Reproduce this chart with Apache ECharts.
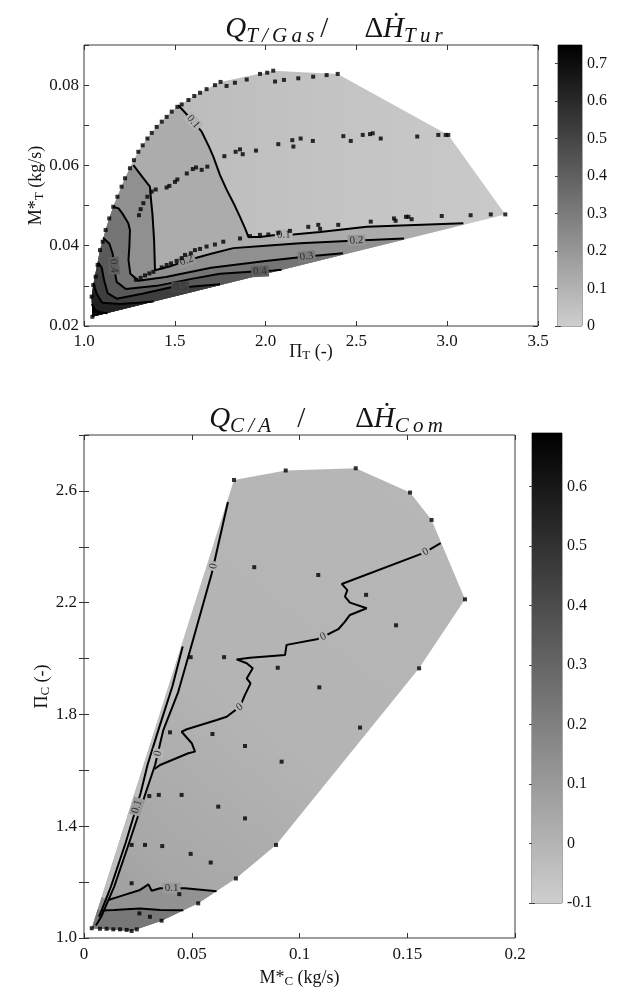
<!DOCTYPE html>
<html>
<head>
<meta charset="utf-8">
<title>Heat-flow ratio maps</title>
<script src="https://cdn.jsdelivr.net/npm/echarts@6/dist/echarts.min.js"></script>
<style>
html,body{margin:0;padding:0;background:#ffffff;}
#chart{width:619px;height:992px;}
</style>
</head>
<body>
<div id="chart"></div>
<script>
// ================= turbine map (upper panel) =================
// operating points, grouped by the line they were measured on  [PI_T, M*_T]
const turbineOuterLine = [
  [1.046,0.0223],[1.042,0.0273],[1.051,0.0302],[1.064,0.0323],[1.075,0.0352],[1.088,0.0389],
  [1.103,0.0410],[1.119,0.0439],[1.139,0.0468],[1.161,0.0497],[1.184,0.0522],[1.207,0.0547],
  [1.226,0.0568],[1.253,0.0593],[1.275,0.0613],[1.299,0.0634],[1.323,0.0650],[1.349,0.0667],
  [1.373,0.0681],[1.400,0.0696],[1.428,0.0709],[1.455,0.0721],[1.483,0.0734],[1.514,0.0746],
  [1.538,0.0752],[1.575,0.0763],[1.607,0.0773],[1.639,0.0781],[1.675,0.0790],[1.721,0.0800],
  [1.752,0.0808],[1.785,0.0798],[1.831,0.0806],[1.896,0.0814],[1.969,0.0828],[2.009,0.0831],
  [2.042,0.0836],[2.052,0.0809],[2.101,0.0813],[2.180,0.0817],[2.262,0.0821],[2.336,0.0825],
  [2.397,0.0828]
];
const turbineMidLine = [
  [1.303,0.0476],[1.312,0.0491],[1.327,0.0506],[1.349,0.0522],[1.373,0.0535],[1.395,0.0540],
  [1.455,0.0545],[1.470,0.0549],[1.501,0.0559],[1.514,0.0565],[1.566,0.0580],[1.599,0.0591],
  [1.617,0.0595],[1.648,0.0589],[1.679,0.0597],[1.773,0.0623],[1.835,0.0634],[1.859,0.0640],
  [1.874,0.0628],[1.947,0.0637],[2.070,0.0653],[2.147,0.0663],[2.153,0.0647],[2.193,0.0667],
  [2.260,0.0661],[2.428,0.0673],[2.469,0.0661],[2.535,0.0676],[2.575,0.0678],[2.590,0.0680],
  [2.634,0.0667],[2.835,0.0672],[2.951,0.0676],[2.992,0.0676],[3.006,0.0676]
];
const turbineLowLine = [
  [1.286,0.0315],[1.312,0.0320],[1.336,0.0326],[1.360,0.0331],[1.382,0.0335],[1.428,0.0346],
  [1.455,0.0352],[1.479,0.0356],[1.510,0.0362],[1.538,0.0369],[1.556,0.0377],[1.588,0.0381],
  [1.611,0.0389],[1.639,0.0392],[1.675,0.0398],[1.721,0.0403],[1.767,0.0410],[1.859,0.0418],
  [1.914,0.0424],[1.969,0.0427],[2.015,0.0428],[2.070,0.0432],[2.134,0.0437],[2.235,0.0447],
  [2.290,0.0452],[2.300,0.0442],[2.400,0.0452],[2.579,0.0460],[2.707,0.0468],[2.716,0.0462],
  [2.773,0.0472],[2.786,0.0472],[2.804,0.0466],[2.970,0.0474],[3.129,0.0476],[3.240,0.0478],
  [3.320,0.0478]
];

// iso-lines of Q_T/Gas / dH_Tur
const turbineIso01 = [[1.519,0.0750],[1.560,0.0730],[1.602,0.0709],[1.648,0.0684],[1.690,0.0645],[1.712,0.0622],
  [1.749,0.0576],[1.786,0.0539],[1.830,0.0500],[1.859,0.0472],[1.890,0.0440],[1.905,0.0422],[1.969,0.0422],
  [2.042,0.0426],[2.152,0.0428],[2.300,0.0434],[2.557,0.0447],[3.089,0.0456]];
const turbineIso02 = [[1.272,0.0601],[1.320,0.0572],[1.363,0.0547],[1.370,0.0510],[1.377,0.0478],[1.386,0.0414],
  [1.391,0.0339],[1.470,0.0348],[1.565,0.0363],[1.700,0.0380],[1.822,0.0394],[2.000,0.0400],[2.189,0.0406],
  [2.447,0.0412],[2.762,0.0418]];
const turbineIso03 = [[1.161,0.0497],[1.190,0.0493],[1.215,0.0478],[1.244,0.0456],[1.253,0.0439],[1.250,0.0400],
  [1.245,0.0365],[1.255,0.0330],[1.300,0.0313],[1.450,0.0322],[1.700,0.0345],[2.000,0.0362],[2.226,0.0373],
  [2.426,0.0381]];
const turbineIso04 = [[1.105,0.0420],[1.140,0.0405],[1.158,0.0380],[1.165,0.0345],[1.180,0.0310],[1.230,0.0292],
  [1.400,0.0300],[1.600,0.0318],[1.749,0.0330],[1.916,0.0335],[2.042,0.0338],[2.088,0.0340]];
const turbineIso05 = [[1.078,0.0358],[1.098,0.0345],[1.110,0.0315],[1.130,0.0282],[1.180,0.0268],[1.327,0.0281],
  [1.474,0.0296],[1.584,0.0298],[1.749,0.0304]];
const turbineIso06 = [[1.053,0.0305],[1.070,0.0280],[1.100,0.0258],[1.200,0.0255],[1.300,0.0258],[1.383,0.0261]];
const turbineIso07 = [[1.044,0.0255],[1.060,0.0240],[1.090,0.0234],[1.130,0.0232]];
const turbineIsoLevels = [0.1, 0.2, 0.3, 0.4, 0.5, 0.6, 0.7];
const turbineIsoLabels = [
  [1.602,0.0709,'0.1'],[2.100,0.0427,'0.1'],[1.565,0.0363,'0.2'],[2.500,0.0413,'0.2'],
  [2.226,0.0373,'0.3'],[1.164,0.0350,'0.4'],[1.969,0.0336,'0.4'],[1.530,0.0297,'0.5']
];
const turbineScale = [0, 0.75];

// ================= compressor map (lower panel) =================
// operating points  [M*_C, PI_C]
const compressorHighPoints = [
  [0.0696,2.639],[0.0936,2.673],[0.1261,2.681],[0.1513,2.594],[0.1613,2.496],[0.1768,2.212],
  [0.0790,2.327],[0.1087,2.299],[0.1309,2.228],[0.1448,2.119],
  [0.0495,2.005],[0.0650,2.005],[0.0899,1.967],[0.1555,1.965],[0.1092,1.897],[0.1281,1.753]
];
const compressorMidPoints = [
  [0.0399,1.736],[0.0596,1.730],[0.0747,1.687],[0.0917,1.631],
  [0.0303,1.508],[0.0347,1.512],[0.0453,1.512],[0.0623,1.470],[0.0747,1.428],
  [0.0221,1.333],[0.0283,1.333],[0.0363,1.329],[0.0891,1.333],[0.0495,1.301],[0.0588,1.270]
];
const compressorLowPoints = [
  [0.0705,1.213],[0.0221,1.196],[0.0442,1.157],[0.0530,1.124],
  [0.0257,1.088],[0.0306,1.076],[0.0360,1.062],
  [0.0036,1.035],[0.0074,1.033],[0.0105,1.033],[0.0136,1.031],[0.0167,1.031],[0.0198,1.029],
  [0.0221,1.025],[0.0245,1.031]
];

// iso-lines of Q_C/A / dH_Com
const compressorIsoZero = [[0.1655,2.413],[0.1580,2.379],[0.1196,2.267],[0.1222,2.245],[0.1211,2.222],
  [0.1234,2.200],[0.1312,2.180],[0.1234,2.156],[0.1211,2.132],[0.1180,2.105],[0.1110,2.078],[0.1080,2.069],
  [0.0940,2.049],[0.0933,2.013],[0.0770,2.003],[0.0708,1.997],[0.0755,1.983],[0.0783,1.965],[0.0755,1.929],
  [0.0773,1.911],[0.0747,1.870],[0.0724,1.828],[0.0662,1.792],[0.0616,1.780],[0.0477,1.747],[0.0453,1.738],
  [0.0500,1.697],[0.0515,1.667],[0.0484,1.661],[0.0353,1.619],[0.0328,1.605]];
const compressorIsoEdgeInner = [[0.0668,2.560],[0.0593,2.305],[0.0500,2.050],[0.0437,1.880],[0.0368,1.744],
  [0.0330,1.620],[0.0286,1.519],[0.0209,1.340],[0.0140,1.184],[0.0080,1.076],[0.0055,1.045]];
const compressorIsoEdgeOuter = [[0.0458,2.043],[0.0410,1.900],[0.0345,1.744],[0.0295,1.620],[0.0263,1.519],
  [0.0193,1.340],[0.0125,1.184],[0.0070,1.076]];
const compressorIso01 = [[0.0113,1.136],[0.0170,1.150],[0.0260,1.172],[0.0299,1.192],[0.0314,1.169],
  [0.0353,1.178],[0.0469,1.178],[0.0615,1.167]];
const compressorIso02 = [[0.0080,1.098],[0.0140,1.100],[0.0198,1.103],[0.0260,1.106],[0.0353,1.100],[0.0461,1.099]];
const compressorIsoLabels = [
  [0.1585,2.382,'0'],[0.1110,2.078,'0'],[0.0722,1.826,'0'],[0.0601,2.331,'0'],[0.0343,1.661,'0'],
  [0.0407,1.178,'0.1'],[0.0245,1.470,'0.1']
];
const compressorScale = [-0.1, 0.69];

// ================= helpers =================
const SERIF = '"Liberation Serif", "Times New Roman", serif';
const INK = '#141414';
const LIGHTEST = 206;
const THIN = '\u2009';

// grey colour scale: light grey at the low end, black at the high end
function grayAt(v, scale) {
  const t = Math.max(0, Math.min(1, (scale[1] - v) / (scale[1] - scale[0])));
  const g = Math.round(LIGHTEST * t);
  return 'rgb(' + g + ',' + g + ',' + g + ')';
}

// convex hull (counter-clockwise, y up) of the measured points
function convexHull(points) {
  const p = points.map(q => q.slice()).sort((a, b) => a[0] - b[0] || a[1] - b[1]);
  const cross = (o, a, b) => (a[0] - o[0]) * (b[1] - o[1]) - (a[1] - o[1]) * (b[0] - o[0]);
  const lower = [], upper = [];
  for (const q of p) {
    while (lower.length >= 2 && cross(lower[lower.length - 2], lower[lower.length - 1], q) <= 0) lower.pop();
    lower.push(q);
  }
  for (let i = p.length - 1; i >= 0; i--) {
    const q = p[i];
    while (upper.length >= 2 && cross(upper[upper.length - 2], upper[upper.length - 1], q) <= 0) upper.pop();
    upper.push(q);
  }
  lower.pop(); upper.pop();
  return lower.concat(upper);
}

// nearest hull edge of a point (distances measured relative to the axis spans)
function edgeProjection(hull, p, span) {
  let best = null;
  for (let i = 0; i < hull.length; i++) {
    const a = hull[i], b = hull[(i + 1) % hull.length];
    const ax = a[0] / span[0], ay = a[1] / span[1], bx = b[0] / span[0], by = b[1] / span[1];
    const px = p[0] / span[0], py = p[1] / span[1];
    const dx = bx - ax, dy = by - ay, len = dx * dx + dy * dy;
    let t = len ? ((px - ax) * dx + (py - ay) * dy) / len : 0;
    t = Math.max(0, Math.min(1, t));
    const d = (px - ax - t * dx) ** 2 + (py - ay - t * dy) ** 2;
    if (!best || d < best.d) best = { i, d, point: [a[0] + t * (b[0] - a[0]), a[1] + t * (b[1] - a[1])] };
  }
  return best;
}

// area enclosed by an iso-line and the hull boundary on the clockwise side of its end point
function regionBeyond(hull, line, span) {
  const n = hull.length;
  const s = edgeProjection(hull, line[0], span);
  const e = edgeProjection(hull, line[line.length - 1], span);
  const poly = line.slice();
  poly.push(e.point);
  if (s.i !== e.i) {
    let i = e.i;
    const stop = (s.i + 1) % n;
    for (let k = 0; k < n; k++) {
      poly.push(hull[i]);
      if (i === stop) break;
      i = (i - 1 + n) % n;
    }
  }
  poly.push(s.point);
  return poly;
}

function distToSeg(c, a, b) {
  const dx = b[0] - a[0], dy = b[1] - a[1], len = dx * dx + dy * dy;
  let t = len ? ((c[0] - a[0]) * dx + (c[1] - a[1]) * dy) / len : 0;
  t = Math.max(0, Math.min(1, t));
  return Math.hypot(c[0] - a[0] - t * dx, c[1] - a[1] - t * dy);
}

function surfaceSeries(layers, xi, yi) {
  return {
    type: 'custom', coordinateSystem: 'cartesian2d', xAxisIndex: xi, yAxisIndex: yi,
    silent: true, z: 1, clip: false,
    data: layers.map(L => L.pts[0]),
    renderItem: (params, api) => {
      const L = layers[params.dataIndex];
      return { type: 'polygon', shape: { points: L.pts.map(p => api.coord(p)) }, style: { fill: L.fill } };
    }
  };
}

function isoLineSeries(line, xi, yi) {
  return {
    type: 'line', xAxisIndex: xi, yAxisIndex: yi, data: line, showSymbol: false, symbol: 'none',
    silent: true, z: 3, lineStyle: { color: '#000', width: 2 }
  };
}

function isoLabelSeries(labels, lines, scale, xi, yi) {
  return {
    type: 'custom', coordinateSystem: 'cartesian2d', xAxisIndex: xi, yAxisIndex: yi,
    silent: true, z: 4, clip: false,
    data: labels.map(l => [l[0], l[1]]),
    renderItem: (params, api) => {
      const lab = labels[params.dataIndex];
      const c = api.coord([lab[0], lab[1]]);
      let best = null;
      for (const line of lines) {
        for (let i = 0; i < line.length - 1; i++) {
          const a = api.coord(line[i]), b = api.coord(line[i + 1]);
          const d = distToSeg(c, a, b);
          if (!best || d < best.d) best = { d, a, b };
        }
      }
      let ang = Math.atan2(best.b[1] - best.a[1], best.b[0] - best.a[0]);
      if (ang > Math.PI / 2) ang -= Math.PI;
      if (ang < -Math.PI / 2) ang += Math.PI;
      return {
        type: 'text', x: c[0], y: c[1], rotation: -ang,
        style: {
          text: lab[2], fill: '#303030', font: '11px ' + SERIF, align: 'center', verticalAlign: 'middle',
          backgroundColor: grayAt(parseFloat(lab[2]), scale), padding: [0, 2, 0, 2]
        }
      };
    }
  };
}

function colorBarSeries(scale, xi, yi) {
  return {
    type: 'custom', coordinateSystem: 'cartesian2d', xAxisIndex: xi, yAxisIndex: yi,
    silent: true, z: 1, data: [[0, scale[0]]],
    renderItem: (params, api) => {
      const lo = api.coord([0, scale[0]]), hi = api.coord([1, scale[1]]);
      return {
        type: 'rect',
        shape: { x: lo[0], y: hi[1], width: hi[0] - lo[0], height: lo[1] - hi[1] },
        style: {
          fill: new echarts.graphic.LinearGradient(0, 0, 0, 1, [
            { offset: 0, color: grayAt(scale[1], scale) },
            { offset: 1, color: grayAt(scale[0], scale) }
          ])
        }
      };
    }
  };
}

// math-style title: italic symbol, spaced italic subscripts
function spaced(s) { return s.split('').join(THIN); }
function titleRich(gapA, gapB) {
  return {
    mi: { fontFamily: SERIF, fontStyle: 'italic', fontSize: 29, lineHeight: 36, verticalAlign: 'middle', fill: INK },
    mu: { fontFamily: SERIF, fontSize: 29, lineHeight: 36, verticalAlign: 'middle', fill: INK },
    si: { fontFamily: SERIF, fontStyle: 'italic', fontSize: 21, lineHeight: 20, verticalAlign: 'bottom', fill: INK },
    ga: { width: gapA, fontSize: 10 },
    gb: { width: gapB, fontSize: 10 }
  };
}

// ================= surfaces =================
const turbinePoints = turbineOuterLine.concat(turbineMidLine, turbineLowLine);
const turbineHull = convexHull(turbinePoints);
const turbineSpan = [2.5, 0.07];
const turbineIsoLines = [turbineIso01, turbineIso02, turbineIso03, turbineIso04, turbineIso05, turbineIso06, turbineIso07];
const turbineLayers = [{
  pts: turbineHull,
  fill: new echarts.graphic.LinearGradient(0, 0, 1, 0, [
    { offset: 0, color: grayAt(0.09, turbineScale) },
    { offset: 0.3, color: grayAt(0.06, turbineScale) },
    { offset: 0.6, color: grayAt(0.035, turbineScale) },
    { offset: 1, color: grayAt(0.02, turbineScale) }
  ])
}].concat(turbineIsoLines.map((line, k) => ({
  pts: regionBeyond(turbineHull, line, turbineSpan),
  fill: grayAt(turbineIsoLevels[k] + 0.025, turbineScale)
})));

const compressorPoints = compressorHighPoints.concat(compressorMidPoints, compressorLowPoints);
const compressorHull = convexHull(compressorPoints);
const compressorSpan = [0.2, 1.8];
const compressorLayers = [
  {
    pts: compressorHull,
    fill: new echarts.graphic.LinearGradient(1, 0, 0, 1, [
      { offset: 0, color: grayAt(-0.01, compressorScale) },
      { offset: 0.55, color: grayAt(0.0, compressorScale) },
      { offset: 0.85, color: grayAt(0.05, compressorScale) },
      { offset: 1, color: grayAt(0.1, compressorScale) }
    ])
  },
  { pts: regionBeyond(compressorHull, compressorIsoEdgeInner, compressorSpan), fill: grayAt(-0.04, compressorScale) },
  { pts: regionBeyond(compressorHull, compressorIso01, compressorSpan), fill: grayAt(0.13, compressorScale) },
  { pts: regionBeyond(compressorHull, compressorIso02, compressorSpan), fill: grayAt(0.23, compressorScale) }
];
const compressorIsoLines = [compressorIsoZero, compressorIsoEdgeInner, compressorIsoEdgeOuter, compressorIso01, compressorIso02];

// ================= axes =================
const tick = { show: true, inside: true, length: 5, lineStyle: { color: '#333', width: 1 } };
const tickLabel = { color: INK, fontFamily: SERIF, fontSize: 17 };
const nameRich = {
  m: { fontFamily: SERIF, fontSize: 18, color: INK, lineHeight: 20, verticalAlign: 'middle' },
  s: { fontFamily: SERIF, fontSize: 13, color: INK, lineHeight: 12, verticalAlign: 'bottom' }
};
const gridBase = { show: true, backgroundColor: 'transparent', borderColor: '#3a3a3a', borderWidth: 1, containLabel: false, outerBoundsMode: 'none' };

function valueAxis(extra) {
  return Object.assign({
    type: 'value', scale: true, axisLine: { show: false }, axisTick: tick, splitLine: { show: false },
    nameMoveOverlap: false,
    axisLabel: Object.assign({ show: false }, tickLabel)
  }, extra);
}

const option = {
  animation: false,
  backgroundColor: '#ffffff',
  grid: [
    Object.assign({}, gridBase, { left: 84, top: 45, width: 454, height: 281 }),
    Object.assign({}, gridBase, { left: 84, top: 435, width: 431, height: 503 }),
    Object.assign({}, gridBase, { left: 558, top: 45, width: 24, height: 281, borderColor: '#555' }),
    Object.assign({}, gridBase, { left: 532, top: 433, width: 30, height: 470, borderColor: '#555' })
  ],
  xAxis: [
    valueAxis({ gridIndex: 0, min: 1, max: 3.5, interval: 0.5, position: 'bottom',
      axisLabel: Object.assign({ show: true, margin: 7, formatter: v => v.toFixed(1) }, tickLabel),
      name: '{m|\u03A0}{s|T}{m| (-)}', nameLocation: 'middle', nameGap: 16,
      nameTextStyle: { rich: nameRich } }),
    valueAxis({ gridIndex: 0, min: 1, max: 3.5, interval: 0.5, position: 'top' }),
    valueAxis({ gridIndex: 1, min: 0, max: 0.2, interval: 0.05, position: 'bottom',
      axisLabel: Object.assign({ show: true, margin: 8 }, tickLabel),
      name: '{m|M*}{s|C}{m| (kg/s)}', nameLocation: 'middle', nameGap: 30,
      nameTextStyle: { rich: nameRich } }),
    valueAxis({ gridIndex: 1, min: 0, max: 0.2, interval: 0.05, position: 'top' }),
    { type: 'value', gridIndex: 2, min: 0, max: 1, show: false },
    { type: 'value', gridIndex: 3, min: 0, max: 1, show: false }
  ],
  yAxis: [
    valueAxis({ gridIndex: 0, min: 0.02, max: 0.09, interval: 0.01, position: 'left',
      axisLabel: Object.assign({ show: true, margin: 5,
        formatter: v => (Math.round(v * 100) % 2 === 0 ? v.toFixed(2) : '') }, tickLabel),
      name: '{m|M*}{s|T}{m| (kg/s)}', nameLocation: 'middle', nameGap: 38, nameRotate: 90,
      nameTextStyle: { rich: nameRich } }),
    valueAxis({ gridIndex: 0, min: 0.02, max: 0.09, interval: 0.01, position: 'right' }),
    valueAxis({ gridIndex: 1, min: 1.0, max: 2.8, interval: 0.2, position: 'left',
      axisLabel: Object.assign({ show: true, margin: 7,
        formatter: v => (Math.round((v - 1) / 0.2) % 2 === 0 ? v.toFixed(1) : '') }, tickLabel),
      name: '{m|\u03A0}{s|C}{m| (-)}', nameLocation: 'middle', nameGap: 32, nameRotate: 90,
      nameTextStyle: { rich: nameRich } }),
    valueAxis({ gridIndex: 1, min: 1.0, max: 2.8, interval: 0.2, position: 'right' }),
    valueAxis({ gridIndex: 2, min: turbineScale[0], max: turbineScale[1], interval: 0.1, position: 'right',
      axisTick: { show: true, inside: true, length: 3, lineStyle: { color: '#444' } },
      axisLabel: Object.assign({ show: true, margin: 5, showMaxLabel: false,
        formatter: v => String(+v.toFixed(2)) }, tickLabel, { fontSize: 16 }) }),
    valueAxis({ gridIndex: 2, min: turbineScale[0], max: turbineScale[1], interval: 0.1, position: 'left',
      axisTick: { show: true, inside: true, length: 3, lineStyle: { color: '#444' } } }),
    valueAxis({ gridIndex: 3, min: compressorScale[0], max: compressorScale[1], interval: 0.1, position: 'right',
      axisTick: { show: true, inside: true, length: 3, lineStyle: { color: '#444' } },
      axisLabel: Object.assign({ show: true, margin: 5, showMaxLabel: false,
        formatter: v => String(+v.toFixed(2)) }, tickLabel, { fontSize: 16 }) }),
    valueAxis({ gridIndex: 3, min: compressorScale[0], max: compressorScale[1], interval: 0.1, position: 'left',
      axisTick: { show: true, inside: true, length: 3, lineStyle: { color: '#444' } } })
  ],
  graphic: [
    {
      type: 'text', x: 334, y: 29, silent: true,
      style: {
        text: '{mi|Q}{si|' + spaced('T/Gas') + '}{ga| }{mu|/}{gb| }{mu|\u0394}{mi|\u1E22}{si|' + spaced('Tur') + '}',
        align: 'center', verticalAlign: 'middle',
        rich: titleRich(6, 36)
      }
    },
    {
      type: 'text', x: 326, y: 419, silent: true,
      style: {
        text: '{mi|Q}{si|' + spaced('C/A') + '}{ga| }{mu|/}{gb| }{mu|\u0394}{mi|\u1E22}{si|' + spaced('Com') + '}',
        align: 'center', verticalAlign: 'middle',
        rich: titleRich(26, 50)
      }
    }
  ],
  series: [
    surfaceSeries(turbineLayers, 0, 0),
    ...turbineIsoLines.map(l => isoLineSeries(l, 0, 0)),
    isoLabelSeries(turbineIsoLabels, turbineIsoLines, turbineScale, 0, 0),
    {
      type: 'scatter', xAxisIndex: 0, yAxisIndex: 0, data: turbinePoints, symbol: 'rect', symbolSize: 4,
      itemStyle: { color: '#000' }, silent: true, z: 5
    },
    surfaceSeries(compressorLayers, 2, 2),
    ...compressorIsoLines.map(l => isoLineSeries(l, 2, 2)),
    isoLabelSeries(compressorIsoLabels, compressorIsoLines, compressorScale, 2, 2),
    {
      type: 'scatter', xAxisIndex: 2, yAxisIndex: 2, data: compressorPoints, symbol: 'rect', symbolSize: 4,
      itemStyle: { color: '#000' }, silent: true, z: 5
    },
    colorBarSeries(turbineScale, 4, 4),
    colorBarSeries(compressorScale, 5, 6)
  ]
};

const chart = echarts.init(document.getElementById('chart'), null, { renderer: 'canvas' });
chart.setOption(option);
</script>
</body>
</html>
